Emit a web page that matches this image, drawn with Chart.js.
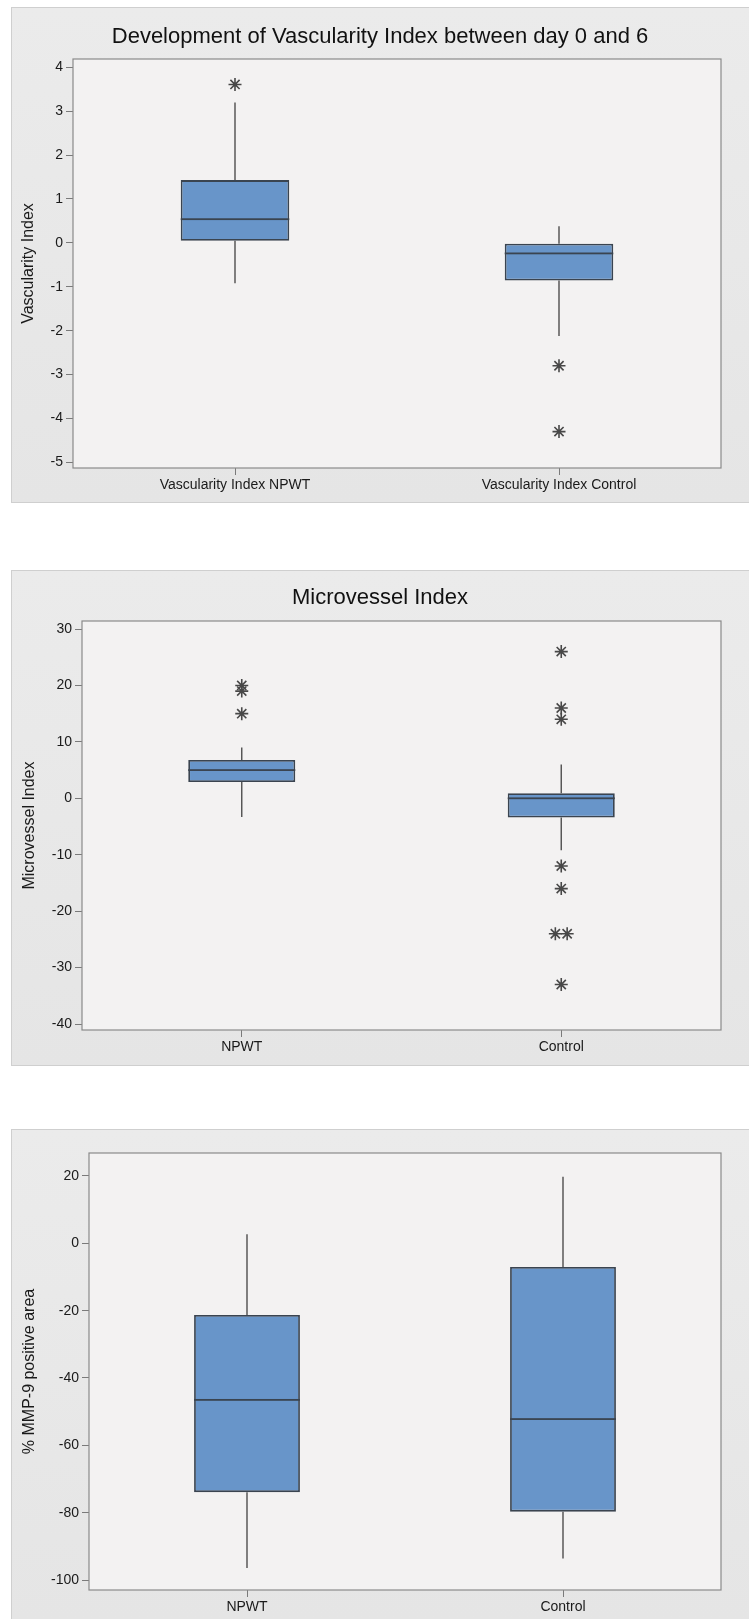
<!DOCTYPE html>
<html lang="en">
<head>
  <meta charset="UTF-8">
  <title>Vascularity, Microvessel and MMP-9 box plots</title>
  <script src="https://cdn.jsdelivr.net/npm/chart.js@4"></script>
  <style>
    * {
      margin: 0;
      padding: 0;
      box-sizing: border-box;
    }

    body {
      width: 749px;
      height: 1619px;
      position: relative;
      overflow: hidden;
      background: #ffffff;
      font-family: "Liberation Sans", Arial, sans-serif;
    }

    .panel {
      position: absolute;
      left: 11px;
      width: 738px;
      background: linear-gradient(#ebebeb, #e5e5e5);
      border: 1px solid #cfcfcf;
      border-right: none;
    }

    canvas {
      position: absolute;
      left: 11px;
    }

    #panel1 { top: 7px; height: 496px; }
    #panel2 { top: 570px; height: 496px; }
    #panel3 { top: 1129px; height: 490px; border-bottom: none; }

    #chart1 { top: 7px; }
    #chart2 { top: 570px; }
    #chart3 { top: 1129px; }
  </style>
</head>

<body>
<div class="panel" id="panel1"></div>
<div class="panel" id="panel2"></div>
<div class="panel" id="panel3"></div>
<canvas id="chart1" width="738" height="496"></canvas>
<canvas id="chart2" width="738" height="496"></canvas>
<canvas id="chart3" width="738" height="490"></canvas>

<script>
  // chart 1 - Vascularity Index
  const categories1 = ['Vascularity Index NPWT', 'Vascularity Index Control'];
  const whiskerLow1 = [-0.92, -2.12];
  const quartile1_1 = [0.05, -0.86];
  const median1 = [0.54, -0.24];
  const quartile3_1 = [1.43, -0.02];
  const whiskerHigh1 = [3.2, 0.38];
  const outliers1 = [[3.61], [-2.8, -4.3]];
  const yTicks1 = [-5, -4, -3, -2, -1, 0, 1, 2, 3, 4];

  // chart 2 - Microvessel Index
  const categories2 = ['NPWT', 'Control'];
  const whiskerLow2 = [-3.3, -9.2];
  const quartile1_2 = [2.9, -3.4];
  const median2 = [5.0, 0.0];
  const quartile3_2 = [6.8, 0.9];
  const whiskerHigh2 = [9.0, 6.0];
  const outliers2 = [[20, 19, 15], [26, 16, 14, -12, -16, -24, -24, -33]];
  const yTicks2 = [-40, -30, -20, -10, 0, 10, 20, 30];

  // chart 3 - % MMP-9 positive area
  const categories3 = ['NPWT', 'Control'];
  const whiskerLow3 = [-96.4, -93.6];
  const quartile1_3 = [-73.9, -79.7];
  const median3 = [-46.5, -52.2];
  const quartile3_3 = [-21.3, -7.0];
  const whiskerHigh3 = [2.7, 19.8];
  const outliers3 = [[], []];
  const yTicks3 = [-100, -80, -60, -40, -20, 0, 20];

  const FONT = '"Liberation Sans", Arial, sans-serif';
  const BOX_FILL = '#6895c9';
  const BOX_EDGE = '#3a4450';
  const WHISKER = '#4e4e4e';
  const STAR = '#484848';

  // fills the plot area and draws the frame round it
  const plotFrame = {
    id: 'plotFrame',
    beforeDraw(chart) {
      const {ctx, chartArea: a} = chart;
      ctx.save();
      ctx.fillStyle = '#f3f2f2';
      ctx.fillRect(a.left, a.top, a.right - a.left, a.bottom - a.top);
      ctx.restore();
    },
    afterDraw(chart) {
      const {ctx, chartArea: a} = chart;
      ctx.save();
      ctx.strokeStyle = '#8a8a8a';
      ctx.lineWidth = 1.2;
      ctx.strokeRect(a.left, a.top, a.right - a.left, a.bottom - a.top);
      ctx.restore();
    }
  };

  // median line across each box, placed with the y scale
  const medianLines = {
    id: 'medianLines',
    afterDatasetsDraw(chart, args, opts) {
      const {ctx} = chart;
      const yScale = chart.scales.y;
      const boxes = chart.getDatasetMeta(1).data;
      ctx.save();
      ctx.fillStyle = BOX_EDGE;
      boxes.forEach((bar, i) => {
        const py = yScale.getPixelForValue(opts.values[i]);
        ctx.fillRect(bar.x - bar.width / 2, py - 0.9, bar.width, 1.8);
      });
      ctx.restore();
    }
  };

  // outliers with the same value are set side by side, as minitab does
  function outlierPoints(groups) {
    const pts = [];
    groups.forEach((vals, i) => {
      const seen = {};
      vals.forEach(v => { seen[v] = (seen[v] || 0) + 1; });
      const used = {};
      vals.forEach(v => {
        const n = seen[v];
        const k = used[v] || 0;
        used[v] = k + 1;
        pts.push({x: i + (k - (n - 1) / 2) * 0.037, y: v});
      });
    });
    return pts;
  }

  function boxChart(id, c) {
    const n = c.categories.length;
    const pairs = (a, b) => c.categories.map((_, i) => ({x: i, y: [a[i], b[i]]}));

    return new Chart(document.getElementById(id), {
      data: {
        datasets: [
          {
            type: 'scatter',
            data: outlierPoints(c.outliers),
            pointStyle: 'star',
            pointRadius: 6.5,
            borderColor: STAR,
            backgroundColor: STAR,
            borderWidth: 1.6
          },
          {
            type: 'bar',
            data: pairs(c.q1, c.q3),
            backgroundColor: BOX_FILL,
            borderColor: BOX_EDGE,
            borderWidth: 1.8,
            borderSkipped: false,
            grouped: false,
            barPercentage: 1,
            categoryPercentage: 0.335
          },
          {
            type: 'bar',
            data: pairs(c.q3, c.high),
            backgroundColor: WHISKER,
            borderWidth: 0,
            maxBarThickness: 1.4,
            grouped: false
          },
          {
            type: 'bar',
            data: pairs(c.low, c.q1),
            backgroundColor: WHISKER,
            borderWidth: 0,
            maxBarThickness: 1.4,
            grouped: false
          }
        ]
      },
      options: {
        responsive: false,
        animation: false,
        layout: {padding: {left: 0, right: 0, top: c.padTop, bottom: 0}},
        plugins: {
          legend: {display: false},
          tooltip: {enabled: false},
          medianLines: {values: c.median},
          title: {
            display: !!c.title,
            text: c.title,
            color: '#111',
            font: {family: FONT, size: 22, weight: 'normal', lineHeight: 1.2},
            padding: c.titlePad
          }
        },
        scales: {
          x: {
            type: 'linear',
            offset: false,
            min: -0.5,
            max: n - 0.5,
            afterBuildTicks: s => { s.ticks = c.categories.map((_, i) => ({value: i})); },
            afterFit: s => { s.height = c.xAxisH; },
            ticks: {
              callback: (v, i) => c.categories[i],
              color: '#1a1a1a',
              font: {family: FONT, size: 14, lineHeight: 1.2},
              padding: 2,
              maxRotation: 0,
              autoSkip: false
            },
            grid: {offset: false, drawOnChartArea: false, tickLength: 7, color: '#7a7a7a'},
            border: {display: false}
          },
          y: {
            min: c.yMin,
            max: c.yMax,
            afterBuildTicks: s => { s.ticks = c.yTicks.map(v => ({value: v})); },
            afterFit: s => { s.width = c.yAxisW; },
            ticks: {
              callback: v => String(v),
              color: '#1a1a1a',
              font: {family: FONT, size: 14, lineHeight: 1.2},
              padding: 3
            },
            grid: {drawOnChartArea: false, tickLength: 7, color: '#7a7a7a'},
            border: {display: false},
            title: {
              display: true,
              text: c.yTitle,
              color: '#1a1a1a',
              font: {family: FONT, size: 16, lineHeight: 1.2},
              padding: {top: c.yTitlePad, bottom: 0}
            }
          },
          // empty right margin, so the title stays centred on the whole panel
          yRight: {
            position: 'right',
            grid: {display: false},
            ticks: {display: false},
            border: {display: false},
            afterFit: s => { s.width = 28; }
          }
        }
      },
      plugins: [plotFrame, medianLines]
    });
  }

  boxChart('chart1', {
    title: 'Development of Vascularity Index between day 0 and 6',
    titlePad: {top: 16.8, bottom: 8.8},
    padTop: 0,
    yTitle: 'Vascularity Index',
    yTitlePad: 8.4,
    categories: categories1,
    low: whiskerLow1, q1: quartile1_1, median: median1, q3: quartile3_1, high: whiskerHigh1,
    outliers: outliers1,
    yTicks: yTicks1,
    yMin: -5.13, yMax: 4.19,
    yAxisW: 62, xAxisH: 35
  });

  boxChart('chart2', {
    title: 'Microvessel Index',
    titlePad: {top: 15.1, bottom: 9.5},
    padTop: 0,
    yTitle: 'Microvessel Index',
    yTitlePad: 8.7,
    categories: categories2,
    low: whiskerLow2, q1: quartile1_2, median: median2, q3: quartile3_2, high: whiskerHigh2,
    outliers: outliers2,
    yTicks: yTicks2,
    yMin: -41.06, yMax: 31.42,
    yAxisW: 71, xAxisH: 36
  });

  boxChart('chart3', {
    title: '',
    titlePad: 0,
    padTop: 24,
    yTitle: '% MMP-9 positive area',
    yTitlePad: 9.4,
    categories: categories3,
    low: whiskerLow3, q1: quartile1_3, median: median3, q3: quartile3_3, high: whiskerHigh3,
    outliers: outliers3,
    yTicks: yTicks3,
    yMin: -102.97, yMax: 26.83,
    yAxisW: 78, xAxisH: 29
  });
</script>
</body>
</html>
